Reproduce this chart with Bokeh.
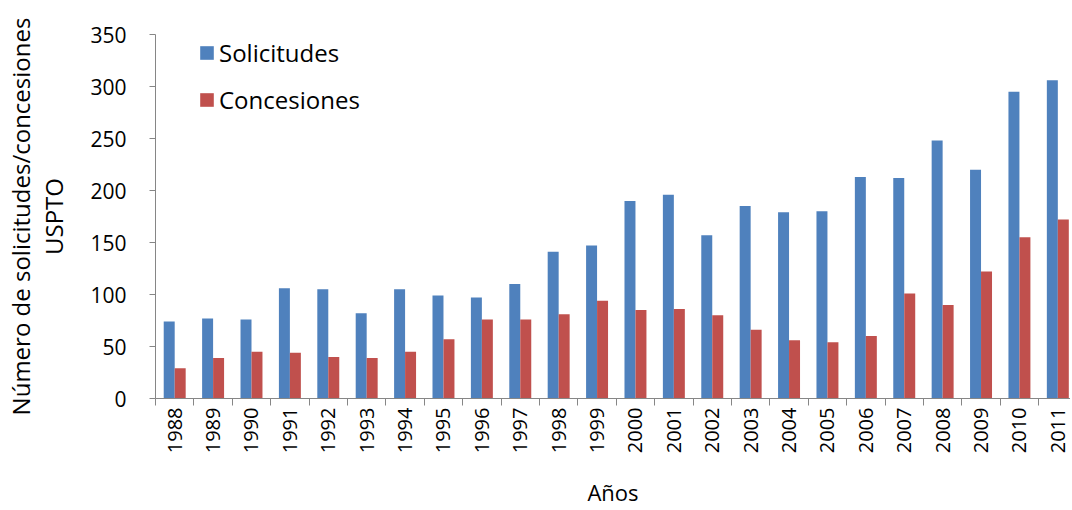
from bokeh.plotting import figure
from bokeh.models import (ColumnDataSource, Range1d, FixedTicker, Legend, LegendItem)
from bokeh.transform import dodge
from bokeh.embed import file_html
from bokeh.resources import INLINE
import math

years = ["1988", "1989", "1990", "1991", "1992", "1993", "1994", "1995", "1996", "1997",
         "1998", "1999", "2000", "2001", "2002", "2003", "2004", "2005", "2006", "2007",
         "2008", "2009", "2010", "2011"]
solicitudes = [74, 77, 76, 106, 105, 82, 105, 99, 97, 110, 141, 147, 190, 196, 157, 185,
               179, 180, 213, 212, 248, 220, 295, 306]
concesiones = [29, 39, 45, 44, 40, 39, 45, 57, 76, 76, 81, 94, 85, 86, 80, 66,
               56, 54, 60, 101, 90, 122, 155, 172]
y_ticks = [0, 50, 100, 150, 200, 250, 300, 350]

idx = list(range(len(years)))
source = ColumnDataSource(dict(idx=idx, year=years, sol=solicitudes, con=concesiones))

FONT = "Open Sans"
AXIS_GRAY = "#868686"
BLUE = "#4F81BD"
RED = "#C0504D"

p = figure(width=1070, height=510, output_backend="svg", toolbar_location=None,
           x_range=Range1d(-0.5, len(years) - 0.67), y_range=Range1d(0, 350),
           min_border_left=155, min_border_top=34, min_border_bottom=112, min_border_right=0)
p.outline_line_color = None
p.xgrid.grid_line_color = None
p.ygrid.grid_line_color = None
p.background_fill_color = "white"
p.border_fill_color = "white"

bw = 0.286
r1 = p.vbar(x=dodge("idx", -bw / 2, range=p.x_range), top="sol", width=bw, source=source,
            fill_color=BLUE, line_color=None)
r2 = p.vbar(x=dodge("idx", bw / 2, range=p.x_range), top="con", width=bw, source=source,
            fill_color=RED, line_color=None)

# x axis
xa = p.xaxis[0]
xa.ticker = FixedTicker(ticks=idx, minor_ticks=[i - 0.5 for i in range(len(years) + 1)])
xa.major_label_overrides = {i: y for i, y in zip(idx, years)}
xa.major_label_orientation = math.pi / 2
xa.major_tick_in = 0
xa.major_tick_out = 0
xa.minor_tick_in = 0
xa.minor_tick_out = 7
xa.minor_tick_line_color = AXIS_GRAY
xa.axis_line_color = AXIS_GRAY
xa.major_label_text_font = FONT
xa.major_label_text_font_size = "20px"
xa.major_label_text_color = "black"
xa.major_label_standoff = 2
xa.axis_label = "Años"
xa.axis_label_text_font = FONT
xa.axis_label_text_font_size = "22px"
xa.axis_label_text_font_style = "normal"
xa.axis_label_text_color = "black"
xa.axis_label_standoff = 21

# y axis
ya = p.yaxis[0]
ya.ticker = FixedTicker(ticks=y_ticks)
ya.major_tick_in = 0
ya.major_tick_out = 6
ya.minor_tick_out = 0
ya.minor_tick_in = 0
ya.major_tick_line_color = AXIS_GRAY
ya.axis_line_color = AXIS_GRAY
ya.major_label_text_font = FONT
ya.major_label_text_font_size = "21px"
ya.major_label_text_color = "black"
ya.major_label_standoff = 23
ya.axis_label = "Número de solicitudes/concesiones\nUSPTO"
ya.axis_label_text_font = FONT
ya.axis_label_text_font_size = "24px"
ya.axis_label_text_font_style = "normal"
ya.axis_label_text_color = "black"
ya.axis_label_text_line_height = 1.0
ya.axis_label_standoff = 17

legend = Legend(items=[LegendItem(label="Solicitudes", renderers=[r1]),
                       LegendItem(label="Concesiones", renderers=[r2])],
                location=(43, 282), padding=0, margin=0, spacing=14,
                glyph_width=17, glyph_height=17, label_standoff=4,
                label_text_font=FONT, label_text_font_size="24px",
                label_text_color="black",
                border_line_color=None, background_fill_alpha=0)
p.add_layout(legend)

open("out.html", "w").write(file_html(p, INLINE))
